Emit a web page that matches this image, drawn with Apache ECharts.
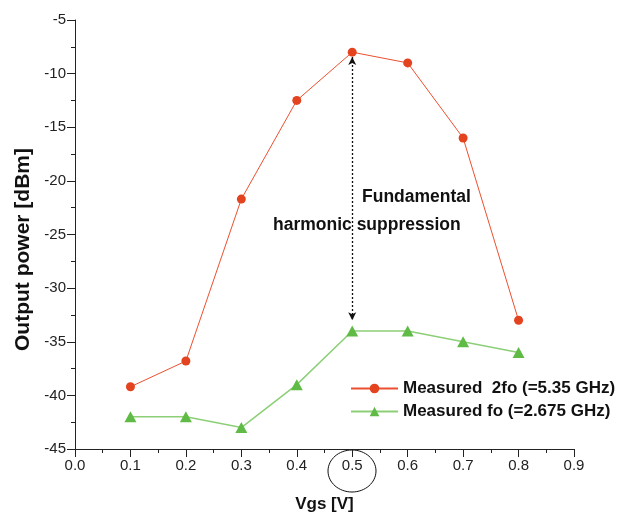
<!DOCTYPE html>
<html><head><meta charset="utf-8">
<script src="https://cdn.jsdelivr.net/npm/echarts@6/dist/echarts.min.js"></script>
<style>html,body{margin:0;padding:0;background:#fff}#c{width:629px;height:518px}</style>
</head><body><div id="c"></div>
<script>
const vgs = [0.1, 0.2, 0.3, 0.4, 0.5, 0.6, 0.7, 0.8];
const p2fo = [-39.2, -36.8, -21.7, -12.5, -8.0, -9.0, -16.0, -33.0];
const pfo = [-42.0, -42.0, -43.0, -39.0, -34.0, -34.0, -35.0, -36.0];
const name2fo = 'Measured  2fo (=5.35 GHz)';
const nameFo = 'Measured fo (=2.675 GHz)';
const arrowX = 0.5;
const arrowTop = -8.45;
const arrowBottom = -33.0;
const noteLines = ['Fundamental', 'harmonic suppression'];
const FONT = '"Liberation Sans", Arial, sans-serif';

const chart = echarts.init(document.getElementById('c'), null, {renderer: 'canvas'});
const axisColor = '#222';
chart.setOption({
  animation: false,
  backgroundColor: '#fff',
  grid: {left: 75, right: 55, top: 20, bottom: 69, containLabel: false},
  legend: {
    left: 345, top: 375, orient: 'vertical', itemWidth: 47, itemHeight: 12, itemGap: 6,
    textStyle: {fontFamily: FONT, fontWeight: 'bold', fontSize: 17, color: '#111'},
    data: [name2fo, nameFo]
  },
  xAxis: {
    type: 'value', min: 0, max: 0.9, interval: 0.1,
    name: 'Vgs [V]', nameLocation: 'middle', nameGap: 47,
    nameTextStyle: {fontFamily: FONT, fontWeight: 'bold', fontSize: 17, color: '#111'},
    axisLine: {show: true, onZero: false, lineStyle: {color: axisColor, width: 1}},
    axisTick: {show: true, inside: false, length: 8, lineStyle: {color: axisColor}},
    minorTick: {show: true, splitNumber: 2, length: 4, lineStyle: {color: axisColor}},
    splitLine: {show: false},
    axisLabel: {fontFamily: FONT, fontSize: 15, color: '#222', margin: 9, formatter: v => v.toFixed(1)}
  },
  yAxis: {
    type: 'value', min: -45, max: -5, interval: 5,
    name: 'Output power [dBm]', nameLocation: 'middle', nameGap: 38, nameRotate: 90,
    nameTextStyle: {fontFamily: FONT, fontWeight: 'bold', fontSize: 21, color: '#111', padding: [0, 30, 0, 0]},
    axisLine: {show: true, onZero: false, lineStyle: {color: axisColor, width: 1}},
    axisTick: {show: true, inside: false, length: 8, lineStyle: {color: axisColor}},
    minorTick: {show: true, splitNumber: 2, length: 4, lineStyle: {color: axisColor}},
    splitLine: {show: false},
    axisLabel: {fontFamily: FONT, fontSize: 15, color: '#222', margin: 9}
  },
  series: [
    {
      name: name2fo, type: 'line', data: vgs.map((x, i) => [x, p2fo[i]]),
      symbol: 'circle', symbolSize: 9,
      itemStyle: {color: '#e4431f'}, lineStyle: {color: '#ec5030', width: 1},
      markLine: {
        silent: true, symbol: ['arrow', 'arrow'], symbolSize: [6, 8],
        lineStyle: {color: '#111', type: [2, 2], width: 1.3},
        label: {show: false},
        data: [[{coord: [arrowX, arrowTop]}, {coord: [arrowX, arrowBottom]}]]
      },
      z: 3
    },
    {
      name: nameFo, type: 'line', data: vgs.map((x, i) => [x, pfo[i]]),
      symbol: 'triangle', symbolSize: [12, 11],
      itemStyle: {color: '#5fbb45'}, lineStyle: {color: '#8ccf77', width: 1.5},
      z: 2
    }
  ],
  graphic: [
    {type: 'text', left: 362, top: 188, style: {text: noteLines[0], font: 'bold 17.5px ' + FONT, fill: '#111'}},
    {type: 'text', left: 273, top: 216, style: {text: noteLines[1], font: 'bold 17.5px ' + FONT, fill: '#111'}},
    {type: 'ellipse', shape: {cx: 352, cy: 471, rx: 24, ry: 21}, style: {fill: 'none', stroke: '#111', lineWidth: 1}}
  ]
});
</script></body></html>
